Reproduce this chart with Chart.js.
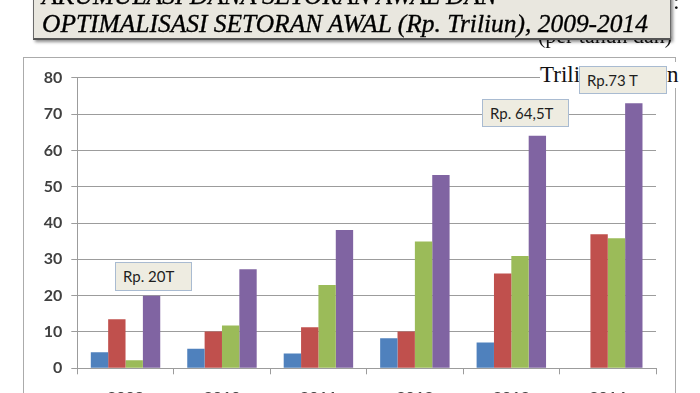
<!DOCTYPE html>
<html>
<head>
<meta charset="utf-8">
<script src="https://cdn.jsdelivr.net/npm/chart.js@4.4.0/dist/chart.umd.min.js"></script>
<style>
  html, body { margin:0; padding:0; width:700px; height:393px; overflow:hidden; background:#fff; }
  #frame { position:absolute; left:23px; top:57px; width:651px; height:400px; border:1px solid #ababab; background:#fff; z-index:0; }
  #wrap { position:absolute; left:0; top:0; width:700px; height:420px; z-index:1; }
  .serif { font-family:"Liberation Serif", serif; color:#111; position:absolute; white-space:nowrap; transform-origin:left top; }
  #behind { left:538px; top:22px; font-size:24px; line-height:normal; z-index:2; }
  #dot { left:673px; top:-12px; font-size:24px; z-index:2; }
  #trili { left:540px; top:62px; font-size:23px; background:#fff; z-index:3; padding-right:2px; }
  #trilin { left:667px; top:62px; font-size:23px; background:#fff; z-index:3; }
  #titlebox { position:absolute; box-sizing:border-box; left:33px; top:-40px; width:638px; height:80px; background:#e9e7df; border:1px solid #6a6a6a; border-bottom:2px solid #555; box-shadow:2px 2px 3px rgba(0,0,0,0.45); z-index:5; overflow:hidden; }
  .tline { position:absolute; left:8px; font-family:"Liberation Serif", serif; font-style:italic; font-size:26px; line-height:28px; color:#000; -webkit-text-stroke:0.35px #000; white-space:nowrap; transform-origin:left top; }
  .ann { position:absolute; box-sizing:border-box; background:#eeece1; border:1px solid #a9bbd1; font-family:Lato, "Open Sans", sans-serif; font-size:15px; color:#1e1e1e; line-height:26px; padding-left:7px; z-index:6; white-space:nowrap; }
</style>
</head>
<body>
<div id="frame"></div>
<div id="wrap"><canvas id="c" width="700" height="420"></canvas></div>
<div class="serif" id="behind">(per tahun dan)</div>
<div class="serif" id="dot">:</div>
<div class="serif" id="trili">Trili</div>
<div class="serif" id="trilin">n</div>
<div id="titlebox">
  <div class="tline" id="t1" style="top:21px;">AKUMULASI DANA SETORAN AWAL DAN</div>
  <div class="tline" id="t2" style="top:49px;">OPTIMALISASI SETORAN AWAL (Rp. Triliun), 2009-2014</div>
</div>
<div class="ann" style="left:115px; top:262px; width:77px; height:29px;">Rp. 20T</div>
<div class="ann" style="left:482px; top:99px; width:87px; height:28px;">Rp. 64,5T</div>
<div class="ann" style="left:579px; top:66px; width:88px; height:28px;">Rp.73 T</div>
<script>
const years = ["2009", "2010", "2011", "2012", "2013", "2014"];
const seriesBlue   = [4.4, 5.4, 4.1, 8.3, 7.1, null];
const seriesRed    = [13.5, 10.1, 11.3, 10.1, 26.1, 36.9];
const seriesGreen  = [2.2, 11.8, 22.9, 34.9, 30.9, 35.8];
const seriesPurple = [20, 27.3, 38.1, 53.2, 64, 73];
const yTicks = [0, 10, 20, 30, 40, 50, 60, 70, 80];

// fit text widths
function fit(id, target) {
  const el = document.getElementById(id);
  const w = el.getBoundingClientRect().width;
  const s = target / w;
  el.style.transform = 'scaleX(' + s + ')';
  return s;
}
const sx = fit('t2', 606);
document.getElementById('t1').style.transform = 'scaleX(' + sx + ')';
fit('behind', 134);

const gridCol = '#9c9c9c';
new Chart(document.getElementById('c'), {
  type: 'bar',
  data: {
    labels: years,
    datasets: [
      { data: seriesBlue,   backgroundColor: '#4F81BD' },
      { data: seriesRed,    backgroundColor: '#C0504D' },
      { data: seriesGreen,  backgroundColor: '#9BBB59' },
      { data: seriesPurple, backgroundColor: '#8064A2' }
    ]
  },
  options: {
    responsive: false,
    animation: false,
    datasets: { bar: { categoryPercentage: 0.72, barPercentage: 1.0 } },
    layout: { padding: { left: 0, top: 77.7, right: 44, bottom: 0 } },
    plugins: { legend: { display: false }, tooltip: { enabled: false } },
    scales: {
      x: {
        grid: { display: true, drawOnChartArea: false, drawTicks: true, tickLength: 6, color: gridCol, offset: true },
        border: { display: true, color: gridCol },
        ticks: { font: { family: 'Lato', size: 16, weight: 'bold' }, color: '#404040', padding: 14 },
        afterFit: s => { s.height = 420 - 368.3; }
      },
      y: {
        min: 0, max: 80,
        afterBuildTicks: s => { s.ticks = yTicks.map(v => ({ value: v })); },
        grid: { color: gridCol, tickLength: 6 },
        border: { display: true, color: gridCol },
        ticks: { font: { family: 'Lato', size: 16, weight: 'bold' }, color: '#404040', padding: 9 },
        afterFit: s => { s.width = 77.3; }
      }
    }
  }
});
</script>
</body>
</html>
